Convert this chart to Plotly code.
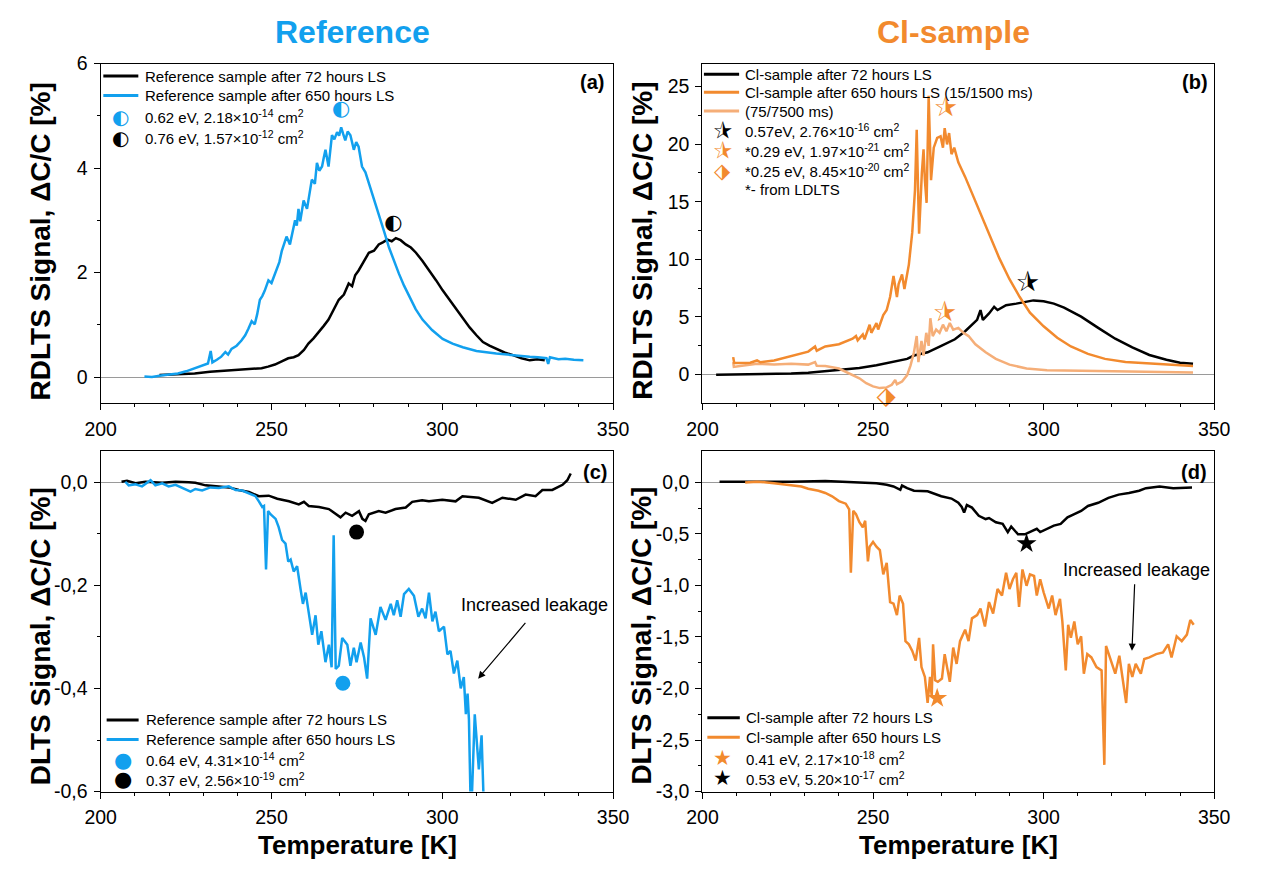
import plotly.graph_objects as go

FONT = "Liberation Sans, Arial, sans-serif"
GLYPH = "DejaVu Sans"
BLUE = "#12A0EE"
ORANGE = "#F28A2E"
LORANGE = "#F5AE78"
BLACK = "#000000"
W, H = 1264, 874

# ---------------- data ----------------
# (a) RDLTS, reference sample
a_T72 = [217.2, 222.0, 227.5, 232.0, 237.3, 242.0, 247.1, 249.0, 251.0, 253.0, 254.9, 256.5, 257.9, 259.5, 260.8,
         262.3, 263.8, 265.3, 266.7, 268.2, 269.7, 271.2, 272.6, 273.6, 274.5, 275.5, 277.0, 278.5, 280.0, 281.4,
         282.6, 283.9, 285.2, 286.4, 287.8, 289.3, 290.8, 292.3, 294.2, 296.2, 298.2, 300.1, 302.1, 304.1, 306.0,
         308.0, 310.0, 311.9, 313.8, 315.8, 318.2, 320.7, 323.2, 325.6, 327.8, 330.0]
a_S72 = [0.04, 0.05, 0.07, 0.10, 0.12, 0.14, 0.17, 0.20, 0.24, 0.30, 0.36, 0.38, 0.42, 0.52, 0.64,
         0.74, 0.85, 0.98, 1.10, 1.28, 1.48, 1.58, 1.79, 1.74, 1.95, 2.04, 2.22, 2.38, 2.42, 2.54,
         2.58, 2.63, 2.60, 2.66, 2.62, 2.54, 2.48, 2.38, 2.22, 2.04, 1.85, 1.66, 1.48, 1.29, 1.12,
         0.95, 0.80, 0.67, 0.60, 0.54, 0.47, 0.42, 0.36, 0.32, 0.34, 0.32]
a_T650 = [212.8, 215.0, 217.7, 220.0, 222.6, 225.0, 227.5, 229.5, 231.4, 232.2, 232.7, 234.0, 235.3, 236.5, 237.3,
          238.3, 239.8, 241.2, 242.3, 243.2, 244.2, 245.1, 245.8, 246.6, 247.3, 248.0, 249.1, 250.0, 250.8, 251.5,
          252.3, 253.0, 253.7, 254.4, 255.4, 256.2, 256.9, 257.4, 257.9, 258.4, 259.4, 260.4, 261.1, 261.8, 262.7,
          263.3, 264.0, 264.8, 265.3, 265.8, 266.7, 267.2, 267.7, 268.4, 269.2, 269.8, 270.4, 271.0, 271.6, 272.3,
          273.1, 274.1, 274.8, 275.5, 276.5, 277.5, 278.5, 280.0, 281.4, 283.0, 284.4, 285.8, 287.3, 288.8, 290.3,
          292.2, 294.2, 297.0, 300.1, 303.0, 306.0, 310.0, 315.8, 320.0, 325.6, 328.0, 330.5, 331.0, 331.5, 334.0,
          336.0, 338.5, 341.3]
a_S650 = [0.01, 0.00, 0.03, 0.05, 0.07, 0.11, 0.17, 0.21, 0.26, 0.50, 0.28, 0.33, 0.39, 0.48, 0.43,
          0.54, 0.60, 0.70, 0.80, 0.92, 1.07, 1.01, 1.20, 1.48, 1.55, 1.65, 1.85, 1.80, 1.95, 2.04,
          2.20, 2.41, 2.55, 2.69, 2.54, 2.80, 3.00, 2.90, 3.22, 2.98, 3.38, 3.22, 3.50, 3.78, 3.70,
          4.10, 3.95, 4.03, 4.20, 4.35, 4.03, 4.40, 4.63, 4.55, 4.69, 4.62, 4.78, 4.65, 4.53, 4.70,
          4.63, 4.35, 4.50, 4.41, 4.03, 3.92, 3.72, 3.40, 3.10, 2.78, 2.48, 2.22, 1.98, 1.75, 1.54,
          1.30, 1.10, 0.90, 0.73, 0.64, 0.57, 0.50, 0.45, 0.42, 0.39, 0.38, 0.36, 0.25, 0.38, 0.34,
          0.35, 0.33, 0.32]
a_markT = [270.4, 285.7]
a_markS = [5.12, 2.94]

# (b) RDLTS, Cl-sample
b_T72 = [204, 210, 216, 221, 226, 231, 236, 241, 246, 251, 256, 260, 262, 266, 270, 274, 277, 279, 280.5, 281.5,
         282.2, 284, 285.5, 286.5, 289, 292, 295, 297, 300, 303, 306, 311, 316, 321, 326, 331, 336, 340, 343.8]
b_S72 = [-0.03, 0.0, 0.0, 0.04, 0.08, 0.15, 0.28, 0.37, 0.56, 0.79, 1.07, 1.35, 1.64, 1.92, 2.48, 3.05, 3.75, 4.32, 4.74, 5.59,
         4.74, 5.30, 5.87, 5.59, 6.01, 6.15, 6.29, 6.43, 6.35, 6.15, 5.81, 5.02, 4.04, 3.10, 2.34, 1.69, 1.27, 1.02, 0.93]
b_T650 = [209.0, 209.3, 209.6, 214, 216, 217, 221, 226, 231, 233, 233.5, 236, 240, 244, 245, 245.5, 247, 247.5, 249, 249.5,
          251, 251.5, 253, 254, 255, 256, 257, 257.5, 258.5, 259.2, 260.5, 261.5, 262.3, 262.8, 263.5, 264.3, 264.8, 265.2,
          265.7, 266.3, 267.0, 267.8, 268.8, 269.8, 270.5, 271.0, 271.7, 272.3, 273.0, 273.8, 275, 277, 279, 281, 284, 287,
          290, 293, 296, 300, 304, 308, 313, 318, 324, 331, 338, 343.8]
b_S650 = [1.50, 1.02, 1.00, 1.02, 1.21, 1.05, 1.21, 1.58, 1.98, 2.43, 2.06, 2.43, 2.62, 3.10, 3.33, 2.96, 3.47, 3.05, 4.32, 3.61,
          4.46, 3.90, 5.16, 5.59, 6.72, 8.55, 6.72, 7.84, 8.69, 7.42, 9.54, 12.36, 16.03, 21.25, 12.22, 17.44, 19.55, 16.87,
          14.90, 24.21, 16.87, 19.70, 20.54, 20.68, 19.70, 21.39, 19.98, 20.97, 19.13, 19.70, 18.43, 17.16, 15.74, 14.33, 12.08, 10.10,
          8.27, 6.72, 5.36, 4.18, 3.19, 2.43, 1.78, 1.35, 1.07, 0.93, 0.79, 0.73]
b_T7500 = [209.0, 209.2, 211, 216, 221, 226, 231, 233, 233.5, 236, 240, 244, 246, 248, 250, 252, 254, 255.5, 256.5, 257.0,
           258.5, 260, 261, 262, 262.8, 263.3, 264.2, 264.8, 265.6, 266.3, 266.8, 267.5, 268.5, 269.5, 270.5, 271.5, 272.5,
           273.5, 275, 276.5, 278, 280, 283, 286, 290, 295, 301, 311, 321, 331, 343.8]
b_S7500 = [1.07, 0.65, 0.73, 0.93, 0.85, 0.93, 0.85, 1.07, 0.75, 0.73, 0.51, -0.06, -0.34, -0.76, -1.04, -1.19, -1.13, -0.90, -0.48, -0.85,
           -0.62, -0.06, 0.79, 1.92, 3.33, 1.07, 2.91, 1.64, 3.61, 2.48, 4.88, 3.33, 3.89, 3.61, 4.32, 3.75, 4.46,
           3.89, 4.04, 3.61, 3.33, 2.62, 1.92, 1.35, 0.85, 0.51, 0.37, 0.31, 0.28, 0.23, 0.17]
b_starBlackT, b_starBlackS = [295.5], [7.79]
b_starOrangeT, b_starOrangeS = [271.5, 271.0], [23.0, 5.16]
b_diamondT, b_diamondS = [253.8], [-2.03]

# (c) DLTS, reference sample
c_T72 = [206.1, 207.7, 210.2, 213.1, 218.0, 221.9, 225.8, 227.7, 230.7, 234.6, 237.5, 240.4, 243.4, 246.3, 249.2, 251.7,
         255.1, 258.0, 259.5, 260.9, 263.9, 266.8, 268.8, 270.2, 271.7, 273.6, 275.6, 276.6, 277.5, 278.5, 281.4, 283.4,
         286.3, 289.3, 291.2, 294.1, 296.1, 300.0, 303.9, 305.9, 310.7, 314.6, 317.6, 321.5, 324.4, 327.3, 329.3, 332.2,
         335.2, 336.6, 337.6]
c_S72 = [0.001, 0.003, -0.002, 0.001, -0.001, 0.001, 0.000, -0.001, -0.006, -0.008, -0.010, -0.015, -0.019, -0.027, -0.026, -0.032,
         -0.037, -0.043, -0.038, -0.046, -0.048, -0.052, -0.062, -0.068, -0.059, -0.065, -0.056, -0.071, -0.075, -0.062, -0.056, -0.059,
         -0.052, -0.049, -0.038, -0.035, -0.037, -0.034, -0.037, -0.027, -0.030, -0.040, -0.030, -0.034, -0.024, -0.027, -0.015, -0.015,
         -0.005, 0.004, 0.017]
c_T650 = [207.2, 208.2, 210.2, 212.1, 214.6, 216.0, 218.0, 219.9, 221.9, 223.8, 226.3, 227.7, 229.7, 232.1, 234.6, 237.5,
          239.5, 241.4, 243.4, 245.3, 246.3, 247.3, 247.8, 248.4, 249.0, 249.7, 251.2, 252.1, 253.1, 254.1, 254.9, 255.6,
          256.5, 257.5, 258.5, 259.2, 260.0, 260.9, 261.9, 262.9, 263.7, 264.6, 265.8, 266.8, 267.6, 268.2, 268.8, 269.7,
          270.7, 272.2, 273.1, 274.1, 274.9, 276.1, 277.1, 278.0, 279.0, 280.5, 281.9, 283.4, 284.9, 285.8, 286.8, 287.8,
          288.8, 290.2, 291.7, 293.0, 294.1, 295.1, 296.1, 297.1, 298.0, 299.0, 300.5, 301.5, 302.4, 303.4, 304.4, 305.4,
          306.3, 306.9, 307.4, 307.8, 308.4, 309.5, 310.7, 311.5, 312.4]
c_S650 = [0.001, -0.006, -0.004, -0.008, 0.004, -0.006, -0.002, -0.008, -0.005, -0.011, -0.018, -0.013, -0.016, -0.010, -0.011, -0.008,
          -0.015, -0.016, -0.021, -0.027, -0.037, -0.048, -0.046, -0.169, -0.056, -0.062, -0.071, -0.087, -0.112, -0.119, -0.154, -0.150,
          -0.173, -0.163, -0.207, -0.236, -0.214, -0.251, -0.296, -0.258, -0.315, -0.289, -0.349, -0.315, -0.359, -0.103, -0.362, -0.356,
          -0.302, -0.315, -0.356, -0.321, -0.349, -0.311, -0.340, -0.381, -0.264, -0.296, -0.242, -0.267, -0.236, -0.258, -0.229, -0.261,
          -0.217, -0.207, -0.220, -0.261, -0.245, -0.264, -0.214, -0.270, -0.251, -0.289, -0.280, -0.334, -0.327, -0.371, -0.346, -0.400,
          -0.378, -0.450, -0.410, -0.460, -0.660, -0.450, -0.557, -0.491, -0.680]
c_markT = [270.9, 274.9]
c_markS = [-0.390, -0.0967]

# (d) DLTS, Cl-sample
d_T72 = [205.0, 211.0, 216.0, 226.0, 236.0, 246.0, 251.0, 254.0, 256.0, 258.0, 258.5, 260.0, 262.0, 266.0, 270.0, 273.0,
         275.0, 276.0, 276.7, 277.5, 279.0, 281.0, 283.0, 284.0, 286.0, 288.0, 289.5, 290.5, 291.5, 292.5, 294.5, 296.0,
         297.0, 298.0, 299.0, 301.0, 303.0, 305.0, 307.0, 309.0, 311.0, 313.0, 316.0, 319.0, 322.0, 325.0, 328.0, 330.0,
         334.0, 338.0, 343.5]
d_S72 = [0.006, 0.006, 0.000, 0.006, 0.013, 0.000, -0.009, -0.025, -0.041, -0.073, -0.032, -0.057, -0.082, -0.088, -0.136, -0.158,
         -0.199, -0.240, -0.294, -0.221, -0.246, -0.325, -0.357, -0.347, -0.388, -0.404, -0.483, -0.429, -0.467, -0.505, -0.505, -0.483,
         -0.474, -0.452, -0.483, -0.452, -0.420, -0.404, -0.341, -0.310, -0.278, -0.230, -0.199, -0.152, -0.120, -0.104, -0.082, -0.057,
         -0.041, -0.057, -0.051]
d_T650 = [212.5, 216.0, 221.0, 226.0, 229.0, 231.0, 234.0, 236.0, 238.0, 240.0, 242.0, 243.0, 243.5, 244.2, 245.0, 246.0,
          247.0, 247.7, 248.5, 249.0, 250.0, 251.0, 252.0, 253.0, 254.0, 255.0, 256.0, 257.0, 257.8, 258.8, 259.5, 260.5,
          261.5, 262.5, 263.5, 264.2, 265.2, 266.0, 266.7, 267.2, 267.6, 268.2, 269.0, 270.2, 271.0, 271.7, 272.5, 273.5,
          274.5, 275.5, 277.0, 278.0, 279.0, 280.5, 281.5, 282.8, 284.0, 285.2, 286.5, 287.8, 289.0, 290.0, 291.0, 292.0,
          292.8, 293.8, 295.0, 296.0, 297.2, 298.0, 299.0, 300.0, 301.5, 302.5, 303.5, 304.8, 305.5, 306.5, 307.2, 308.0,
          309.0, 310.0, 311.0, 311.8, 312.8, 314.0, 315.5, 317.0, 317.8, 318.3, 319.5, 321.0, 322.2, 323.2, 324.2, 325.0,
          326.0, 327.0, 328.5, 329.5, 331.0, 333.0, 335.0, 336.5, 337.5, 339.0, 340.5, 342.0, 343.0, 344.0]
d_S650 = [-0.003, 0.006, -0.009, -0.025, -0.041, -0.063, -0.082, -0.104, -0.136, -0.183, -0.208, -0.262, -0.878, -0.278, -0.309, -0.388,
          -0.436, -0.373, -0.767, -0.625, -0.578, -0.625, -0.657, -0.894, -0.783, -1.162, -1.178, -1.288, -1.099, -1.178, -1.541, -1.572,
          -1.636, -1.730, -1.509, -1.793, -1.888, -2.141, -1.888, -2.078, -1.572, -1.920, -1.936, -1.904, -1.667, -1.793, -1.936, -1.604,
          -1.762, -1.541, -1.430, -1.541, -1.320, -1.288, -1.225, -1.399, -1.162, -1.273, -1.036, -1.099, -0.878, -1.036, -0.941, -0.878,
          -1.209, -0.846, -1.004, -0.894, -0.909, -1.099, -0.941, -1.067, -1.225, -1.099, -1.288, -1.130, -1.351, -1.825, -1.383, -1.509,
          -1.351, -1.572, -1.494, -1.857, -1.667, -1.699, -1.793, -1.825, -2.741, -1.588, -1.699, -1.857, -1.683, -1.904, -2.141, -1.762,
          -1.888, -1.762, -1.857, -1.715, -1.699, -1.667, -1.651, -1.572, -1.699, -1.494, -1.541, -1.478, -1.336, -1.383]
d_starOrangeT, d_starOrangeS = [268.8], [-2.094]
d_starBlackT, d_starBlackS = [295.0], [-0.594]

# tick labels
x_ticks = [200, 250, 300, 350]
x_minor = [210, 220, 230, 240, 260, 270, 280, 290, 310, 320, 330, 340]
a_yticks, a_yminor = [0, 2, 4, 6], [1, 3, 5]
b_yticks, b_yminor = [0, 5, 10, 15, 20, 25], [2.5, 7.5, 12.5, 17.5, 22.5]
c_yticks = [0, -0.2, -0.4, -0.6]
c_yticktext = ["0,0", "-0,2", "-0,4", "-0,6"]
c_yminor = [-0.1, -0.3, -0.5]
d_yticks = [0, -0.5, -1.0, -1.5, -2.0, -2.5, -3.0]
d_yticktext = ["0,0", "-0,5", "-1,0", "-1,5", "-2,0", "-2,5", "-3,0"]
d_yminor = [-0.25, -0.75, -1.25, -1.75, -2.25, -2.75]

for xs, ys in [(a_T72, a_S72), (a_T650, a_S650), (b_T72, b_S72), (b_T650, b_S650), (b_T7500, b_S7500),
               (c_T72, c_S72), (c_T650, c_S650), (d_T72, d_S72), (d_T650, d_S650)]:
    assert len(xs) == len(ys), (len(xs), len(ys))

# ---------------- layout geometry (pixels) ----------------
XL = (86.9, 612.6)
XR = (704.3, 1229.3)
YT = (54.0, 402.3)
YB = (451.7, 800.7)


def px(x):
    return x / W


def py(y):
    return 1 - y / H


def xdom(r):
    return [px(r[0]), px(r[1])]


def ydom(r):
    return [py(r[1]), py(r[0])]


fig = go.Figure()
LW = 2.5


def line(x, y, color, xa, ya):
    fig.add_trace(go.Scatter(x=x, y=y, mode="lines", line=dict(color=color, width=LW),
                             xaxis=xa, yaxis=ya, showlegend=False, hoverinfo="skip"))


def glyph(x, y, ch, color, size, xa, ya):
    fig.add_trace(go.Scatter(x=x, y=y, mode="text", text=[ch] * len(x), textposition="middle center",
                             textfont=dict(family=GLYPH, size=size, color=color), cliponaxis=False,
                             xaxis=xa, yaxis=ya, showlegend=False, hoverinfo="skip"))


def marker(x, y, symbol, color, size, xa, ya, lw=0):
    fig.add_trace(go.Scatter(x=x, y=y, mode="markers",
                             marker=dict(symbol=symbol, color=color, size=size, line=dict(color=color, width=lw)),
                             cliponaxis=False, xaxis=xa, yaxis=ya, showlegend=False, hoverinfo="skip"))


# (a)
line(a_T72, a_S72, BLACK, "x", "y")
line(a_T650, a_S650, BLUE, "x", "y")
glyph(a_markT[:1], a_markS[:1], "\u25D0", BLUE, 21, "x", "y")
glyph(a_markT[1:], a_markS[1:], "\u25D0", BLACK, 21, "x", "y")
# (b)
line(b_T72, b_S72, BLACK, "x2", "y2")
line(b_T7500, b_S7500, LORANGE, "x2", "y2")
line(b_T650, b_S650, ORANGE, "x2", "y2")
glyph(b_starBlackT, b_starBlackS, "\u2BEB", BLACK, 25, "x2", "y2")
glyph(b_starOrangeT, b_starOrangeS, "\u2BEB", ORANGE, 25, "x2", "y2")
glyph(b_diamondT, b_diamondS, "\u2B17", ORANGE, 25, "x2", "y2")
# (c)
line(c_T72, c_S72, BLACK, "x3", "y3")
line(c_T650, c_S650, BLUE, "x3", "y3")
marker(c_markT[:1], c_markS[:1], "circle", BLUE, 15, "x3", "y3")
marker(c_markT[1:], c_markS[1:], "circle", BLACK, 15, "x3", "y3")
# (d)
line(d_T72, d_S72, BLACK, "x4", "y4")
line(d_T650, d_S650, ORANGE, "x4", "y4")
marker(d_starOrangeT, d_starOrangeS, "star", ORANGE, 15, "x4", "y4")
marker(d_starBlackT, d_starBlackS, "star", BLACK, 15, "x4", "y4")

common = dict(showline=True, linecolor="black", linewidth=1.3, mirror=True, ticks="outside", ticklen=6,
              tickwidth=1.3, tickcolor="black", showgrid=False,
              tickfont=dict(family=FONT, size=19.5, color="black"))


def xaxis(dom, anchor):
    return dict(domain=dom, anchor=anchor, range=[200, 350], tickmode="array", tickvals=x_ticks,
                ticktext=[str(v) for v in x_ticks], zeroline=False, ticklabelstandoff=2,
                minor=dict(tickmode="array", tickvals=x_minor, ticks="outside", ticklen=3, tickwidth=1.3,
                           tickcolor="black"), **common)


def yaxis(dom, anchor, rng, tv, tt, mv):
    return dict(domain=dom, anchor=anchor, range=rng, tickmode="array", tickvals=tv, ticktext=tt,
                zeroline=True, zerolinecolor="#9a9a9a", zerolinewidth=1, ticklabelstandoff=2,
                minor=dict(tickmode="array", tickvals=mv, ticks="outside", ticklen=3, tickwidth=1.3,
                           tickcolor="black"), **common)


fig.update_layout(
    width=W, height=H, margin=dict(l=0, r=0, t=0, b=0),
    paper_bgcolor="white", plot_bgcolor="white", showlegend=False,
    font=dict(family=FONT, color="black"),
    xaxis=xaxis(xdom(XL), "y"),
    yaxis=yaxis(ydom(YT), "x", [-0.5, 6], a_yticks, [str(v) for v in a_yticks], a_yminor),
    xaxis2=xaxis(xdom(XR), "y2"),
    yaxis2=yaxis(ydom(YT), "x2", [-2.5, 27], b_yticks, [str(v) for v in b_yticks], b_yminor),
    xaxis3=xaxis(xdom(XL), "y3"),
    yaxis3=yaxis(ydom(YB), "x3", [-0.6, 0.06], c_yticks, c_yticktext, c_yminor),
    xaxis4=xaxis(xdom(XR), "y4"),
    yaxis4=yaxis(ydom(YB), "x4", [-3.0, 0.3], d_yticks, d_yticktext, d_yminor),
)

ann = []
shapes = []


def text(x, y, s, size, color="black", xanchor="left", angle=0, fam=FONT):
    ann.append(dict(x=px(x), y=py(y), xref="paper", yref="paper", text=s, showarrow=False,
                    xanchor=xanchor, yanchor="middle", textangle=angle,
                    font=dict(family=fam, size=size, color=color)))


# Titles
text(345, 22, "<b>Reference</b>", 32, BLUE, "center")
text(962, 22, "<b>Cl-sample</b>", 32, ORANGE, "center")
# panel labels
text(605, 73, "<b>(a)</b>", 20, xanchor="right")
text(1225, 73, "<b>(b)</b>", 20, xanchor="right")
text(608, 473, "<b>(c)</b>", 20, xanchor="right")
text(1224, 473, "<b>(d)</b>", 20, xanchor="right")
# axis titles
text(25, 236, "<b>RDLTS Signal, \u0394C/C [%]</b>", 28, xanchor="center", angle=-90)
text(642, 236, "<b>RDLTS Signal, \u0394C/C [%]</b>", 28, xanchor="center", angle=-90)
text(25, 641, "<b>DLTS Signal, \u0394C/C [%]</b>", 28, xanchor="center", angle=-90)
text(642, 641, "<b>DLTS Signal, \u0394C/C [%]</b>", 28, xanchor="center", angle=-90)
text(350, 856, "<b>Temperature [K]</b>", 26, xanchor="center")
text(967, 856, "<b>Temperature [K]</b>", 26, xanchor="center")


def legend(x0, x1, xt, xm, rows):
    for y, kind, color, label in rows:
        if kind == "line":
            shapes.append(dict(type="line", xref="paper", yref="paper", x0=px(x0), x1=px(x1),
                               y0=py(y), y1=py(y), line=dict(color=color, width=3)))
        elif kind:
            g, sz = kind
            text(xm, y, g, sz, color, "center", fam=GLYPH)
        text(xt, y, label, 15)


SUP = "\u00d710<sup>%s</sup> cm<sup>2</sup>"
legend(89.6, 125.5, 130, 107.5, [
    (66.7, "line", BLACK, "Reference sample after 72 hours LS"),
    (86.7, "line", BLUE, "Reference sample after 650 hours LS"),
    (108.3, ("\u25D0", 20), BLUE, "0.62 eV, 2.18" + SUP % "-14"),
    (130.0, ("\u25D0", 20), BLACK, "0.76 eV, 1.57" + SUP % "-12"),
])
legend(705.8, 741.9, 746, 725, [
    (65.0, "line", BLACK, "Cl-sample after 72 hours LS"),
    (83.3, "line", ORANGE, "Cl-sample after 650 hours LS (15/1500 ms)"),
    (102.7, "line", LORANGE, "(75/7500 ms)"),
    (122.7, ("\u2BEB", 21), BLACK, "0.57eV, 2.76" + SUP % "-16"),
    (143.3, ("\u2BEB", 21), ORANGE, "*0.29 eV, 1.97" + SUP % "-21"),
    (164.0, ("\u2B17", 21), ORANGE, "*0.25 eV, 8.45" + SUP % "-20"),
    (182.7, None, None, "*- from LDLTS"),
])
legend(93.0, 125.8, 131, 109.3, [
    (727.3, "line", BLACK, "Reference sample after 72 hours LS"),
    (747.3, "line", BLUE, "Reference sample after 650 hours LS"),
    (768.0, ("\u25CF", 21), BLUE, "0.64 eV, 4.31" + SUP % "-14"),
    (788.3, ("\u25CF", 21), BLACK, "0.37 eV, 2.56" + SUP % "-19"),
])
legend(709.3, 742.6, 746.8, 725, [
    (725.0, "line", BLACK, "Cl-sample after 72 hours LS"),
    (745.0, "line", ORANGE, "Cl-sample after 650 hours LS"),
    (766.7, ("\u2605", 21), ORANGE, "0.41 eV, 2.17" + SUP % "-18"),
    (787.3, ("\u2605", 21), BLACK, "0.53 eV, 5.20" + SUP % "-17"),
])

# "Increased leakage" annotations with arrows (data coordinates)
ann.append(dict(x=327.1, y=-0.239, xref="x3", yref="y3", text="Increased leakage", showarrow=False,
                font=dict(family=FONT, size=18, color="black"), xanchor="center", yanchor="middle"))
ann.append(dict(x=310.5, y=-0.381, ax=324.7, ay=-0.270, xref="x3", yref="y3", axref="x3", ayref="y3",
                text="", showarrow=True, arrowhead=2, arrowsize=1.2, arrowwidth=1.2, arrowcolor="black"))
ann.append(dict(x=327.3, y=-0.852, xref="x4", yref="y4", text="Increased leakage", showarrow=False,
                font=dict(family=FONT, size=18, color="black"), xanchor="center", yanchor="middle"))
ann.append(dict(x=325.9, y=-1.635, ax=326.7, ay=-0.975, xref="x4", yref="y4", axref="x4", ayref="y4",
                text="", showarrow=True, arrowhead=2, arrowsize=1.2, arrowwidth=1.2, arrowcolor="black"))

fig.update_layout(annotations=ann, shapes=shapes)

post = ("document.body.style.margin='0';document.body.style.overflow='hidden';"
        "document.documentElement.style.overflow='hidden';")
fig.write_html("out.html", include_plotlyjs=True, full_html=True,
               config={"displayModeBar": False}, post_script=post)
